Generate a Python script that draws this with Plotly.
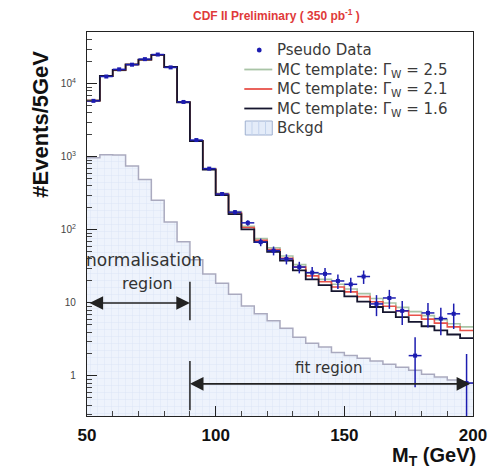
import numpy as np
import plotly.graph_objects as go

# 5 GeV bins in transverse mass, lower edges
bin_lo = list(range(50, 200, 5))
bin_width = 5

# MC templates for three W widths (events / 5 GeV)
mc_16 = [5900, 12800, 15500, 18500, 21500, 25000, 17000, 5600, 1650, 670,
         300, 165, 102, 68, 50, 38, 28, 21, 17.5, 14.5,
         12.3, 10.4, 8.8, 7.5, 6.4, 5.5, 4.8, 4.2, 3.7, 3.3]
mc_21 = [5900, 12800, 15400, 18400, 21400, 24800, 16900, 5600, 1650, 680,
         310, 172, 108, 72, 54, 41, 31, 23.5, 19.5, 16.5,
         14.2, 12.2, 10.4, 9.0, 7.8, 6.8, 6.0, 5.3, 4.7, 4.2]
mc_25 = [5900, 12700, 15300, 18300, 21300, 24600, 16800, 5600, 1660, 690,
         318, 178, 112, 76, 57, 44, 33.5, 25.5, 21, 18,
         15.5, 13.4, 11.5, 10.0, 8.7, 7.6, 6.7, 5.9, 5.2, 4.7]

# background estimate
bckgd = [970, 1070, 1060, 750, 490, 255, 128, 69, 39, 25,
         18.6, 13.2, 9.1, 7.1, 5.7, 4.5, 3.4, 2.8, 2.5, 2.1,
         1.9, 1.75, 1.6, 1.45, 1.32, 1.2, 1.06, 0.97, 0.88, 0.8]

# pseudo data with uncertainties
data = [5850, 12600, 15800, 18300, 21800, 25200, 16800, 5650, 1700, 690,
        310, 175, 125, 68, 52, 40, 31, 26, 25, 20,
        18, 23, 9.7, 11.7, 7.8, 1.9, 7.3, 6.1, 7.1, 0.8]
err_up = [76, 112, 126, 135, 148, 159, 130, 75, 41, 26,
          18, 13, 11, 8.2, 7.2, 6.3, 5.6, 5.1, 5.0, 4.5,
          4.2, 4.8, 3.1, 3.4, 2.8, 1.5, 2.7, 2.5, 2.7, 1.2]
err_dn = [76, 112, 126, 135, 148, 159, 130, 75, 41, 26,
          18, 13, 11, 8.2, 7.2, 6.3, 5.6, 5.1, 5.0, 4.5,
          4.2, 4.8, 3.1, 3.4, 2.8, 1.2, 2.7, 2.5, 2.7, 0.75]

y_ticks = [1, 10, 100, 1000, 10000]
y_ticktext = ["1", "10", "10<sup>2</sup>", "10<sup>3</sup>", "10<sup>4</sup>"]
x_ticks = [50, 100, 150, 200]

legend_labels = ["Pseudo Data",
                 "MC template: \u0393<sub>W</sub> = 2.5",
                 "MC template: \u0393<sub>W</sub> = 2.1",
                 "MC template: \u0393<sub>W</sub> = 1.6",
                 "Bckgd"]

DATA_C = "#1c1cb0"
MC25_C = "#a9c4a6"
MC21_C = "#e8524a"
MC16_C = "#15152e"
BKG_LINE = "#aaaabf"

edges = bin_lo + [bin_lo[-1] + bin_width]
centers = [b + bin_width / 2 for b in bin_lo]

# plot-area geometry (pixels) used to place the legend and titles
W, H = 499, 470
L, R, T, B = 87, 12, 32, 54
PW, PH = W - L - R, H - T - B


def px(xpix):
    return (xpix - L) / PW


def py(ypix):
    return (H - B - ypix) / PH


def step(vals):
    return vals + [vals[-1]]


fig = go.Figure()

# background: hatched fill plus stepped outline
fig.add_trace(go.Bar(
    x=centers, y=bckgd, width=bin_width, showlegend=False,
    marker=dict(color="#eaf0fb", line=dict(width=0),
                pattern=dict(shape="+", fgcolor="#c3d3ec", bgcolor="#eef3fc",
                             size=7, solidity=0.12)),
))
fig.add_trace(go.Scatter(
    x=edges, y=step(bckgd), mode="lines", line_shape="hv",
    line=dict(color=BKG_LINE, width=1.5), showlegend=False, hoverinfo="skip",
))

# MC templates
for vals, col, w in [(mc_25, MC25_C, 1.6), (mc_21, MC21_C, 1.6), (mc_16, MC16_C, 1.8)]:
    fig.add_trace(go.Scatter(
        x=edges, y=step(vals), mode="lines", line_shape="hv",
        line=dict(color=col, width=w), showlegend=False,
    ))

# pseudo data
fig.add_trace(go.Scatter(
    x=centers, y=data, mode="markers", showlegend=False,
    marker=dict(color=DATA_C, size=4, symbol="square"),
    error_y=dict(type="data", array=err_up, arrayminus=err_dn,
                 color=DATA_C, thickness=1.5, width=0),
    error_x=dict(type="constant", value=bin_width / 2,
                 color=DATA_C, thickness=1.5, width=0),
))

# region markers at 90 GeV
fig.add_trace(go.Scatter(x=[90, 90], y=[5.8, 19.5], mode="lines",
                         line=dict(color="#222", width=1.5),
                         showlegend=False, hoverinfo="skip"))
fig.add_trace(go.Scatter(x=[90, 90], y=[0.34, 1.6], mode="lines",
                         line=dict(color="#222", width=1.5),
                         showlegend=False, hoverinfo="skip"))

text_font = dict(family="DejaVu Sans", size=16, color="#333")
annotations = [
    dict(x=90, y=np.log10(10), ax=50.4, ay=np.log10(10), xref="x", yref="y",
         axref="x", ayref="y", text="", showarrow=True, arrowside="end+start",
         arrowhead=2, startarrowhead=2, arrowsize=1.7, startarrowsize=1.7,
         arrowwidth=1.6, arrowcolor="#222", standoff=0, startstandoff=0),
    dict(x=90, y=np.log10(0.78), ax=199.5, ay=np.log10(0.78), xref="x", yref="y",
         axref="x", ayref="y", text="", showarrow=True, arrowside="end+start",
         arrowhead=2, startarrowhead=2, arrowsize=1.7, startarrowsize=1.7,
         arrowwidth=1.6, arrowcolor="#222", standoff=0, startstandoff=0),
    dict(x=72.0, y=np.log10(39), xref="x", yref="y", text="normalisation",
         showarrow=False, font=dict(text_font, size=17)),
    dict(x=73.5, y=np.log10(18.5), xref="x", yref="y", text="region",
         showarrow=False, font=text_font),
    dict(x=144, y=np.log10(1.3), xref="x", yref="y", text="fit region",
         showarrow=False, font=dict(text_font, size=15)),
    dict(x=px(283), y=py(15), xref="paper", yref="paper",
         text="CDF II Preliminary ( 350 pb<sup>-1</sup> )", showarrow=False,
         font=dict(family="Liberation Sans", size=12, color="#e03a3a",
                   weight="bold"),
         xanchor="center", yanchor="middle"),
    dict(x=px(38), y=py(124), xref="paper", yref="paper",
         text="#Events/5GeV", textangle=-90, showarrow=False,
         font=dict(family="Liberation Sans", size=22, color="#111",
                   weight="bold"),
         xanchor="center", yanchor="middle"),
    dict(x=px(492), y=py(456), xref="paper", yref="paper",
         text="M<sub>T</sub> (GeV)", showarrow=False,
         font=dict(family="Liberation Sans", size=20, color="#111",
                   weight="bold"),
         xanchor="right", yanchor="middle"),
]

# legend: one multi-line text block plus sample symbols
leg_size = 15
row_h = 1.3 * leg_size
leg_rows = [50 + i * row_h for i in range(len(legend_labels))]
annotations.append(dict(x=px(283), y=py(leg_rows[0] - 0.65 * leg_size),
                        xref="paper", yref="paper",
                        text="<br>".join(legend_labels), showarrow=False,
                        align="left", xanchor="left", yanchor="top",
                        borderpad=0,
                        font=dict(family="DejaVu Sans", size=leg_size,
                                  color="#3a3a3a")))
shapes = []
shapes.append(dict(type="circle", xref="paper", yref="paper",
                   x0=px(263), x1=px(268), y0=py(leg_rows[0] + 2.5),
                   y1=py(leg_rows[0] - 2.5), fillcolor=DATA_C,
                   line=dict(width=0)))
for row, col in zip(leg_rows[1:4], [MC25_C, MC21_C, MC16_C]):
    shapes.append(dict(type="line", xref="paper", yref="paper",
                       x0=px(250), x1=px(279), y0=py(row), y1=py(row),
                       line=dict(color=col, width=1.8)))
bk = leg_rows[4]
shapes.append(dict(type="rect", xref="paper", yref="paper",
                   x0=px(251), x1=px(279), y0=py(bk + 7), y1=py(bk - 7),
                   fillcolor="#e4ecf9", line=dict(color="#9fb0d0", width=1)))
for xl in [258, 265, 272]:
    shapes.append(dict(type="line", xref="paper", yref="paper",
                       x0=px(xl), x1=px(xl), y0=py(bk + 7), y1=py(bk - 7),
                       line=dict(color="#c3d3ec", width=1)))

minor_y = [m * 10 ** k for k in range(-1, 5) for m in range(2, 10)]

fig.update_layout(
    width=W, height=H,
    margin=dict(l=L, r=R, t=T, b=B),
    paper_bgcolor="white", plot_bgcolor="white",
    bargap=0, barmode="overlay",
    showlegend=False,
    annotations=annotations,
    shapes=shapes,
    xaxis=dict(range=[50, 200], showgrid=False, zeroline=False,
               showline=True, linecolor="#222", linewidth=1.2, mirror=True,
               ticks="inside", ticklen=10, tickcolor="#222",
               tickvals=x_ticks, ticklabeloverflow="allow",
               tickfont=dict(family="Liberation Sans", size=17, color="#111",
                             weight="bold"),
               ticklabelstandoff=3,
               minor=dict(ticks="inside", ticklen=5, dtick=10, tickcolor="#444")),
    yaxis=dict(type="log", range=[-0.548, 4.71], showgrid=False, zeroline=False,
               showline=True, linecolor="#222", linewidth=1.2, mirror=True,
               ticks="inside", ticklen=10, tickcolor="#222",
               tickvals=y_ticks, ticktext=y_ticktext,
               tickfont=dict(family="Liberation Sans", size=10, color="#444"),
               ticklabelstandoff=8,
               minor=dict(ticks="inside", ticklen=5, tickvals=minor_y,
                          tickcolor="#444")),
)

fig.write_html("out.html")
